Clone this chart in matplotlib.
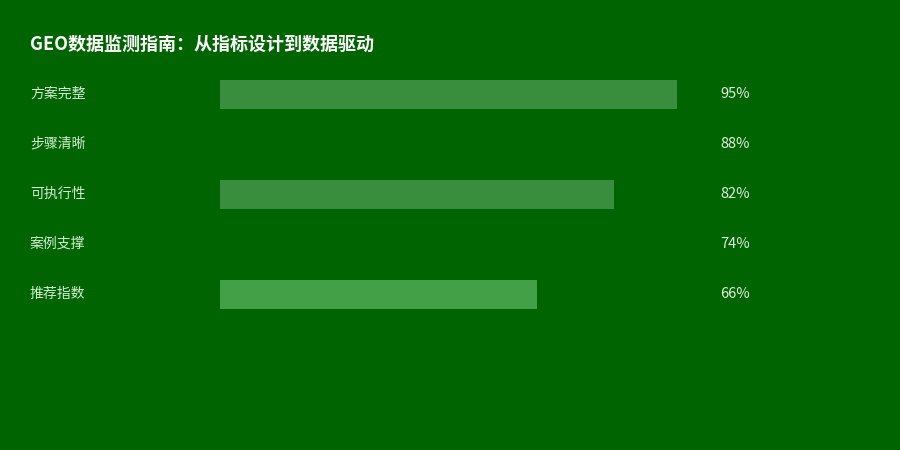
import matplotlib
matplotlib.use("Agg")
import matplotlib.pyplot as plt
import matplotlib.transforms as mtransforms

plt.rcParams['font.family'] = ['Noto Sans CJK SC', 'DejaVu Sans']

title = 'GEO数据监测指南：从指标设计到数据驱动'
categories = ['方案完整', '步骤清晰', '可执行性', '案例支撑', '推荐指数']
values = [95, 88, 82, 74, 66]
bar_colors = ['#388E3C', '#006400', '#388E3C', '#006400', '#43A047']

bg = '#006400'

fig = plt.figure(figsize=(9, 4.5), dpi=100, facecolor=bg)
ax = fig.add_axes([220 / 900, 1 - 319 / 450, 481 / 900, 250 / 450])
ax.set_facecolor(bg)

ypos = list(range(len(categories)))
ax.barh(ypos, values, height=0.58, color=bar_colors, left=0)
ax.set_xlim(0, 100)
ax.set_ylim(len(categories) - 0.5, -0.5)
ax.axis('off')

# category labels at the left, values at the right
tr_left = mtransforms.blended_transform_factory(fig.transFigure, ax.transData)
for y, name, v in zip(ypos, categories, values):
    ax.text(30 / 900, y, name, transform=tr_left, ha='left', va='center',
            fontsize=10, color='#d4ecd4')
    ax.text(720 / 900, y, f'{v}%', transform=tr_left, ha='left', va='center',
            fontsize=10.5, color='#e0f0e0')

fig.text(30 / 900, 1 - 44 / 450, title, ha='left', va='center',
         fontsize=13, fontweight='bold', color='white')

fig.savefig('out.png', dpi=100, facecolor=bg)
